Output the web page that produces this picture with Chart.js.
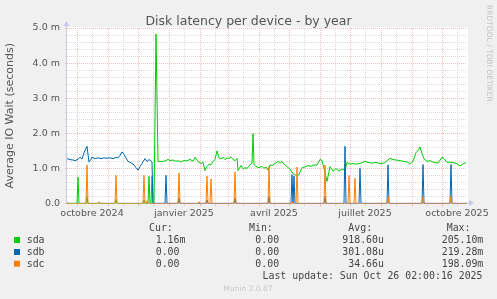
<!DOCTYPE html>
<html>
<head>
<meta charset="utf-8">
<title>Disk latency per device - by year</title>
<script src="https://cdn.jsdelivr.net/npm/chart.js@4.4.1/dist/chart.umd.min.js"></script>
<style>
  html, body { margin: 0; padding: 0; background: #f0f0f0; }
  canvas { display: block; }
</style>
</head>
<body>
<canvas id="chart" width="497" height="299"></canvas>
<script>
// === Data: x = day inside the 400 day window, y = latency in ms ===
const windowDays = 400;
const lastUpdate = Date.UTC(2025, 9, 26, 0, 0);

const seriesNames = ['sda', 'sdb', 'sdc'];
const seriesColors = ['#00cc00', '#0066b3', '#ff8000'];

// sda: idle until the end of december, then ~1.2 ms
const sdaDays = [0, 87, 89, 91, 93, 96, 99, 101, 103, 106, 109, 111, 114, 117, 120, 123, 126, 128, 131, 134, 136, 138, 140, 142, 144, 146, 148, 150, 152, 154, 156, 158, 160, 162, 164, 166, 168, 170, 171, 174, 176, 178, 180, 183, 185, 186, 187, 189, 192, 195, 197, 199, 201, 203, 205, 208, 211, 213, 215, 217, 220, 223, 226, 229, 232, 235, 238, 241, 244, 247, 250, 253, 255, 257, 260, 263, 266, 269, 272, 275, 278, 280, 283, 286, 289, 293, 298, 301, 305, 309, 313, 317, 320, 323, 326, 329, 333, 337, 341, 343, 346, 349, 351, 353, 355, 357, 360, 363, 367, 371, 375, 377, 380, 383, 387, 390, 393, 396, 399];
const sdaValues = [0, 0, 4.83, 1.2, 1.2, 1.2, 1.22, 1.26, 1.22, 1.24, 1.2, 1.22, 1.18, 1.23, 1.21, 1.26, 1.2, 1.32, 1.2, 1.14, 1.18, 0.94, 1.05, 1.12, 1.1, 1.2, 1.25, 1.5, 1.3, 1.27, 1.32, 1.25, 1.3, 1.28, 1.33, 1.26, 1.22, 1.28, 0.94, 1.08, 0.99, 1.02, 1.0, 1.1, 1.15, 1.99, 1.12, 1.05, 1.02, 1.06, 1.0, 1.04, 0.95, 1.1, 1.08, 1.14, 1.2, 1.15, 1.2, 1.12, 1.05, 0.98, 0.85, 0.8, 0.82, 1.02, 1.04, 1.08, 1.06, 1.1, 1.09, 1.26, 1.22, 1.0, 0.63, 1.05, 0.92, 1.0, 0.92, 0.98, 0.95, 1.17, 1.12, 1.14, 1.12, 1.14, 1.2, 1.17, 1.15, 1.17, 1.14, 1.15, 1.22, 1.29, 1.25, 1.24, 1.22, 1.2, 1.17, 1.12, 1.2, 1.45, 1.51, 1.61, 1.42, 1.27, 1.2, 1.22, 1.17, 1.15, 1.32, 1.28, 1.17, 1.18, 1.16, 1.13, 1.07, 1.13, 1.16];
const sdaSpikeDays = [11, 20, 49, 77, 82, 85];
const sdaSpikeValues = [0.75, 0.2, 0.12, 0.1, 0.77, 0.77];

// sdb: ~1.3 ms until december, then only short bursts
const sdbDays = [0, 3, 6, 8, 11, 13, 15, 17, 20, 22, 24, 25, 28, 31, 34, 37, 40, 43, 46, 49, 51, 53, 55, 57, 59, 61, 64, 67, 69, 71, 73, 75, 78, 80, 82, 84, 85, 86, 400];
const sdbValues = [1.28, 1.25, 1.24, 1.22, 1.26, 1.32, 1.27, 1.45, 1.63, 1.18, 1.26, 1.32, 1.28, 1.3, 1.28, 1.3, 1.29, 1.3, 1.28, 1.31, 1.3, 1.37, 1.47, 1.4, 1.3, 1.2, 1.16, 1.1, 1.02, 0.95, 1.05, 1.14, 1.28, 1.2, 1.25, 1.22, 1.18, 0, 0];
const sdbSpikeDays = [99, 112, 140, 168, 202, 225, 227, 258, 278, 293, 321, 356, 384];
const sdbSpikeValues = [0.8, 0.15, 0.1, 0.15, 0.2, 0.82, 0.78, 0.2, 1.63, 1.0, 1.1, 1.11, 1.11];

// sdc: zero with bursts
const sdcDays = [0, 400];
const sdcValues = [0, 0];
const sdcSpikeDays = [1, 20, 32, 49, 77, 80, 112, 132, 140, 144, 168, 202, 225, 230, 258, 282, 288, 321, 356, 384];
const sdcSpikeValues = [0.03, 1.1, 0.05, 0.8, 0.8, 0.08, 0.87, 0.05, 0.78, 0.7, 0.9, 1.05, 0.05, 1.04, 1.1, 0.8, 0.72, 0.2, 0.2, 0.2];

// axis labels
const tickLabels = ['octobre 2024', 'janvier 2025', 'avril 2025', 'juillet 2025', 'octobre 2025'];
const tickMonths = ['2024-10', '2025-01', '2025-04', '2025-07', '2025-10'];

// legend
const legendCur = ['  1.16m', '  0.00 ', '  0.00 '];
const legendMin = ['  0.00 ', '  0.00 ', '  0.00 '];
const legendAvg = ['918.60u', '301.08u', ' 34.66u'];
const legendMax = ['205.10m', '219.28m', '198.09m'];

// === helpers ===
const DAY = 86400000;
const startTime = lastUpdate - windowDays * DAY;

function buildSeries(days, values, spikeDays, spikeValues) {
  const pts = days.map((d, i) => ({ x: d, y: values[i], k: 0 }));
  spikeDays.forEach((d, i) => {
    pts.push({ x: d - 1, y: 0, k: 1 }, { x: d, y: spikeValues[i], k: 2 }, { x: d + 1, y: 0, k: 3 });
  });
  pts.sort((a, b) => a.x - b.x || a.k - b.k);
  return pts.map(p => ({ x: p.x, y: p.y }));
}

// month lines (red) and mid-month lines (grey), labels on mid-month
const xTicks = [];
for (let i = 0; i < 15; i++) {
  const d = new Date(Date.UTC(2024, 8 + i, 1));
  const d0 = (d.getTime() - startTime) / DAY;
  const key = d.getUTCFullYear() + '-' + String(d.getUTCMonth() + 1).padStart(2, '0');
  if (d0 >= 0 && d0 <= windowDays) xTicks.push({ value: d0, kind: 'major', lbl: '' });
  const mid = d0 + 15;
  if (mid >= 0 && mid <= windowDays) {
    const li = tickMonths.indexOf(key);
    xTicks.push({ value: mid, kind: 'minor', lbl: li >= 0 ? tickLabels[li] : '' });
  }
}
xTicks.sort((a, b) => a.value - b.value);

const majorGrid = '#eebcbc';
const minorGrid = '#dcdcdc';
const axisColor = '#c8c8ec';

const muninPlugin = {
  id: 'munin',
  beforeDraw(chart) {
    const { ctx, chartArea: a } = chart;
    ctx.save();
    ctx.fillStyle = '#f0f0f0';
    ctx.fillRect(0, 0, chart.width, chart.height);
    ctx.fillStyle = '#ffffff';
    ctx.fillRect(a.left, a.top - 1, a.right - a.left + 1, a.bottom - a.top + 1);
    ctx.restore();
  },
  beforeDatasetsDraw(chart) {
    const { ctx, chartArea: a } = chart;
    ctx.save();
    ctx.strokeStyle = axisColor;
    ctx.fillStyle = axisColor;
    ctx.lineWidth = 1;
    ctx.beginPath();
    ctx.moveTo(a.left - 0.5, a.bottom);
    ctx.lineTo(a.left - 0.5, a.top - 4);
    ctx.moveTo(a.left - 1, a.bottom - 0.5);
    ctx.lineTo(a.right + 3, a.bottom - 0.5);
    ctx.stroke();
    // arrows
    ctx.beginPath();
    ctx.moveTo(a.left - 3.5, a.top - 2);
    ctx.lineTo(a.left + 2.5, a.top - 2);
    ctx.lineTo(a.left - 0.5, a.top - 7);
    ctx.closePath();
    ctx.fill();
    ctx.beginPath();
    ctx.moveTo(a.right + 2, a.bottom - 3.5);
    ctx.lineTo(a.right + 2, a.bottom + 2.5);
    ctx.lineTo(a.right + 7, a.bottom - 0.5);
    ctx.closePath();
    ctx.fill();
    ctx.restore();
  },
  afterDraw(chart) {
    const ctx = chart.ctx;
    ctx.save();
    // title
    ctx.fillStyle = '#555555';
    ctx.font = '12.5px "DejaVu Sans"';
    ctx.textAlign = 'center';
    ctx.textBaseline = 'alphabetic';
    ctx.fillText('Disk latency per device - by year', 248.5, 25);

    // side credit
    ctx.save();
    ctx.translate(488.5, 5);
    ctx.rotate(Math.PI / 2);
    ctx.fillStyle = '#c4c4c4';
    ctx.font = '7.5px "DejaVu Sans"';
    ctx.textAlign = 'left';
    ctx.textBaseline = 'middle';
    ctx.fillText('RRDTOOL / TOBI OETIKER', 0, 0);
    ctx.restore();

    // legend
    ctx.font = '9.9px "DejaVu Sans Mono"';
    ctx.textAlign = 'left';
    ctx.fillStyle = '#444444';
    ctx.fillText('Cur:', 149, 231);
    ctx.fillText('Min:', 249, 231);
    ctx.fillText('Avg:', 348.3, 231);
    ctx.fillText('Max:', 446.7, 231);
    const rowBase = [243, 255, 266.7];
    seriesNames.forEach((name, i) => {
      const yb = rowBase[i];
      ctx.fillStyle = seriesColors[i];
      ctx.fillRect(14, yb - 6, 6, 6);
      ctx.fillStyle = '#444444';
      ctx.fillText(name, 26.7, yb);
      ctx.fillText(legendCur[i], 143.8, yb);
      ctx.fillText(legendMin[i], 243.4, yb);
      ctx.fillText(legendAvg[i], 342.3, yb);
      ctx.fillText(legendMax[i], 441.7, yb);
    });
    ctx.textAlign = 'right';
    ctx.fillText('Last update: Sun Oct 26 02:00:16 2025', 482.5, 278.7);

    ctx.textAlign = 'center';
    ctx.fillStyle = '#c8c8c8';
    ctx.font = '7.5px "DejaVu Sans"';
    ctx.fillText('Munin 2.0.67', 248, 290.7);
    ctx.restore();
  }
};

const lineStyle = { borderWidth: 1, pointRadius: 0, tension: 0, fill: false };

new Chart(document.getElementById('chart'), {
  type: 'line',
  data: {
    datasets: [
      { label: seriesNames[0], data: buildSeries(sdaDays, sdaValues, sdaSpikeDays, sdaSpikeValues), borderColor: seriesColors[0], order: 3, ...lineStyle },
      { label: seriesNames[1], data: buildSeries(sdbDays, sdbValues, sdbSpikeDays, sdbSpikeValues), borderColor: seriesColors[1], order: 2, ...lineStyle },
      { label: seriesNames[2], data: buildSeries(sdcDays, sdcValues, sdcSpikeDays, sdcSpikeValues), borderColor: seriesColors[2], order: 1, ...lineStyle }
    ]
  },
  options: {
    responsive: false,
    animation: false,
    devicePixelRatio: 1,
    layout: { padding: { left: 0, right: 30, top: 28, bottom: 76 } },
    plugins: {
      legend: { display: false },
      tooltip: { enabled: false },
      title: { display: false }
    },
    scales: {
      x: {
        type: 'linear',
        min: 0,
        max: windowDays,
        afterBuildTicks: (scale) => { scale.ticks = xTicks.map(t => ({ ...t })); },
        afterFit: (scale) => { scale.height = 19.5; },
        border: { display: false, dash: [1, 1] },
        grid: {
          color: (c) => c.tick && c.tick.kind === 'major' ? majorGrid : minorGrid,
          tickColor: (c) => c.tick && c.tick.kind === 'major' ? majorGrid : minorGrid,
          tickLength: 3,
          lineWidth: 1
        },
        ticks: {
          autoSkip: false,
          maxRotation: 0,
          padding: 1,
          color: '#555555',
          font: { family: 'DejaVu Sans', size: 9.5 },
          callback: (v, i, ticks) => ticks[i].lbl || ''
        }
      },
      y: {
        min: 0,
        max: 5,
        afterFit: (scale) => { scale.width = 67; },
        border: { display: false, dash: [1, 1] },
        grid: {
          color: (c) => c.tick && Math.abs(c.tick.value - Math.round(c.tick.value)) < 1e-6 ? majorGrid : minorGrid,
          tickColor: (c) => c.tick && Math.abs(c.tick.value - Math.round(c.tick.value)) < 1e-6 ? majorGrid : minorGrid,
          tickLength: 2,
          lineWidth: 1
        },
        ticks: {
          stepSize: 0.2,
          autoSkip: false,
          padding: 5,
          color: '#555555',
          font: { family: 'DejaVu Sans', size: 9.5 },
          callback: (v) => {
            if (Math.abs(v - Math.round(v)) > 1e-6) return '';
            return Math.round(v) === 0 ? '0.0' : Math.round(v).toFixed(1) + ' m';
          }
        },
        title: {
          display: true,
          text: 'Average IO Wait (seconds)',
          color: '#555555',
          font: { family: 'DejaVu Sans', size: 11 },
          padding: { top: 4, bottom: 0 }
        }
      }
    }
  },
  plugins: [muninPlugin]
});
</script>
</body>
</html>
